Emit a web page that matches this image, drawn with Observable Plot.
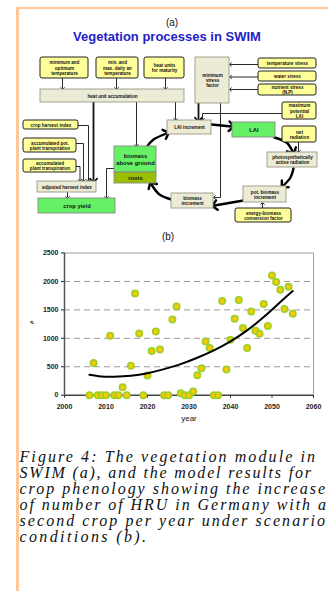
<!DOCTYPE html>
<html><head><meta charset="utf-8">
<script src="https://cdn.jsdelivr.net/npm/d3@7"></script>
<script src="https://cdn.jsdelivr.net/npm/@observablehq/plot@0.6"></script>
<style>
html,body{margin:0;padding:0;background:#fff;}
#page{position:relative;width:328px;height:591px;overflow:hidden;background:#fff;font-family:Arial,"Liberation Sans",sans-serif;}
.abs{position:absolute;}
#borderL{left:16px;top:7px;width:3px;height:584px;background:#fdc99b;}
#borderT{left:16px;top:7px;width:312px;height:2px;background:#fdc99b;}
#labA{left:122px;width:100px;top:16.5px;text-align:center;font-size:10px;line-height:12px;color:#111;}
#title{left:17px;width:300px;top:28.5px;text-align:center;font-size:13px;line-height:15px;font-weight:bold;color:#1e22c8;}
#labB{left:118px;width:100px;top:231px;text-align:center;font-size:10px;line-height:12px;color:#111;}
#diagram{left:0;top:0;}
#chart{left:0;top:240px;}
#caption{left:0;top:440px;}
</style>
</head><body>
<div id="page">
  <div id="borderL" class="abs"></div>
  <div id="borderT" class="abs"></div>
  <div id="diagram" class="abs"></div>
  <div id="labA" class="abs">(a)</div>
  <div id="title" class="abs">Vegetation processes in SWIM</div>
  <div id="labB" class="abs">(b)</div>
  <div id="chart" class="abs"></div>
  <svg id="caption" class="abs" width="328" height="130"></svg>
</div>
<script>
// ---------- (b) data ----------
const years = [2006,2007,2008,2009,2010,2011,2012,2013,2014,2015,2016,2017,2018,2019,2020,2021,2022,2023,2024,2025,2026,2027,2028,2029,2030,2031,2032,2033,2034,2035,2036,2037,2038,2039,2040,2041,2042,2043,2044,2045,2046,2047,2048,2049,2050,2051,2052,2053,2054,2055];
const hruCounts = [0,564,0,0,0,1045,0,0,141,0,517,1790,1086,0,347,775,1121,804,0,0,1332,1561,35,0,0,65,350,475,945,828,0,0,1655,452,975,1343,1675,1180,828,1473,1135,1080,1605,1218,2105,1990,1855,1515,1905,1432];
const trendYears = [2006,2008.8,2012,2016,2020,2024,2028,2032,2036,2040,2044,2048,2052,2055];
const trendValues = [359,329,324,341,387,458,546,658,787,945,1139,1373,1637,1830];
const xTicks = [2000,2010,2020,2030,2040,2050,2060];
const yTicks = [0,500,1000,1500,2000,2500];
const gridValues = [500,1000,1500,2000];
const xLabel = "year";
const yLabel = "#";

// ---------- (a) diagram content ----------
const nodeLabels = [
  "minimum and\noptimum\ntemperature","min. and\nmax. daily air\ntemperature","heat units\nfor maturity",
  "temperature stress","water stress","nutrient stress\n(N,P)","maximum\npotential\nLAI",
  "crop harvest index","accumulated pot.\nplant transpiration","accumulated\nplant transpiration",
  "net\nradiation","energy-biomass\nconversion factor",
  "minimum\nstress\nfactor","heat unit accumulation","adjusted harvest index","LAI increment",
  "photosynthetically\nactive radiation","pot. biomass\nincrement","biomass\nincrement",
  "crop yield","biomass\nabove ground","LAI","roots"
];
const nodeKinds = ["input","input","input","input","input","input","input","input","input","input","input","input",
  "process","process","process","process","process","process","process","state","state","state","root"];
// diagram layout (diagram units)
const nodeBoxes = [
  [40,57,88,78],[96,57,138,78],[144,57,184,78],
  [258,58,316,68],[258,71,316,81],[258,84,316,95],[282,102,316,119],
  [23,120,78,129],[23,138,76,152],[23,159,76,172],
  [282,126,316,142],[235,208,291,222],
  [195,57,229,103],[40,89,184,102],[37,181,96,192],[167,120,211,134],
  [267,152,317,167],[243,186,286,202],[171,193,213,208],
  [38,198,115,213],[114,146,156,172],[232,122,275,137],[114,172,156,183]
];
const thinLinks = [
  [[62,78],[62,88]],[[116,78],[116,88]],[[165,78],[165,88]],
  [[136,102],[136,145]],[[175,102],[175,119]],
  [[220,103],[220,197],[214,197]],[[282,113],[202,113],[202,119]],
  [[258,64],[230,64]],[[258,76.5],[230,76.5]],[[258,89],[230,89]],
  [[78,125],[88,125],[88,180]],[[76,143],[83,143],[83,180]],[[76,166],[79.5,166],[79.5,180]],
  [[67,192],[67,197]],[[114,168],[106,168],[106,197]],
  [[298,142],[298,151]],[[262,208],[262,203]]
];
const mediumLinks = [ [[93,102],[93,180]], [[198,103],[198,119]] ];
const cycleLinks = [
  [[146,147],[153,139],[166,133]],[[211,124],[231,126]],
  [[274,137],[286,142],[292,151]],[[293,168],[290,177],[283,185]],
  [[243,200],[214,205]],[[171,199],[159,194],[151,184]]
];

const kindFill = {input:"#ffff99", process:"#ebebd6", state:"#66f066", root:"#99c000"};
const kindStroke = {input:"#222", process:"#999988", state:"#888", root:"#888"};

const nodes = nodeLabels.map((label,i)=>({label, kind:nodeKinds[i], x1:nodeBoxes[i][0], y1:nodeBoxes[i][1], x2:nodeBoxes[i][2], y2:nodeBoxes[i][3]}));
const toSeg = (arr)=>arr.flatMap((pts,id)=>pts.map(([x,y])=>({id,x,y})));
const big = new Set(["biomass\nabove ground","crop yield","LAI","roots"]);

const diagram = Plot.plot({
  width:328, height:230, margin:0,
  x:{domain:[0,328], range:[0,328], axis:null},
  y:{domain:[0,230], range:[0,230], axis:null},
  style:{background:"transparent", fontFamily:"Arial, 'Liberation Sans', sans-serif", fontWeight:"bold", overflow:"visible"},
  marks:[
    Plot.line(toSeg(thinLinks), {x:"x", y:"y", z:"id", stroke:"#111", strokeWidth:0.9, markerEnd:"arrow"}),
    Plot.line(toSeg(mediumLinks), {x:"x", y:"y", z:"id", stroke:"#111", strokeWidth:1.8, markerEnd:"arrow"}),
    Plot.line(toSeg(cycleLinks), {x:"x", y:"y", z:"id", stroke:"#000", strokeWidth:2.4, curve:"natural", markerEnd:"arrow"}),
    ...Object.keys(kindFill).map(k=>Plot.rect(nodes.filter(d=>d.kind===k), {x1:"x1", x2:"x2", y1:"y1", y2:"y2", fill:kindFill[k], stroke:kindStroke[k], strokeWidth: k==="input"?1:0.9, rx: k==="input"?2:0})),
    Plot.text(nodes.filter(d=>!big.has(d.label)), {x:d=>(d.x1+d.x2)/2, y:d=>(d.y1+d.y2)/2, text:"label", fontSize:4.6, lineHeight:1.15, fill:"#111"}),
    Plot.text(nodes.filter(d=>big.has(d.label)), {x:d=>(d.x1+d.x2)/2, y:d=>(d.y1+d.y2)/2, text:"label", fontSize:5.8, lineHeight:1.2, fill:"#111"})
  ]
});
document.getElementById("diagram").appendChild(diagram);

// ---------- (b) chart ----------
const pts = years.map((y,i)=>({year:y, n:hruCounts[i]}));
const trend = trendYears.map((y,i)=>({year:y, n:trendValues[i]}));
const chart = Plot.plot({
  width:328, height:190,
  marginLeft:64, marginRight:15, marginTop:12.5, marginBottom:35.3,
  style:{background:"transparent", fontFamily:"Arial, 'Liberation Sans', sans-serif", fontSize:"7px", fontWeight:"bold", color:"#222", overflow:"visible"},
  x:{domain:[2000,2060], ticks:xTicks, tickFormat:d=>String(d), tickSize:3, tickPadding:6, label:null},
  y:{domain:[0,2500], ticks:yTicks, tickFormat:d=>String(d), tickSize:3, tickPadding:3, label:null},
  marks:[
    Plot.ruleY(gridValues, {stroke:"#9a9a9a", strokeWidth:1, strokeDasharray:"6,4"}),
    Plot.ruleY([2500], {stroke:"#a0a0a0", strokeWidth:1}),
    Plot.ruleX([2060], {stroke:"#a0a0a0", strokeWidth:1}),
    Plot.ruleX([2000], {stroke:"#555", strokeWidth:1.5}),
    Plot.ruleY([0], {stroke:"#444", strokeWidth:1.5}),
    Plot.dot(pts, {x:"year", y:"n", r:3.1, fill:"#ffc800", stroke:"#9fd028", strokeWidth:1.8}),
    Plot.line(trend, {x:"year", y:"n", curve:"natural", stroke:"#000", strokeWidth:2}),
    Plot.text([xLabel], {frameAnchor:"bottom", dy:25.5, fontSize:8, fontWeight:"normal", fill:"#222"}),
    Plot.text([yLabel], {frameAnchor:"left", dx:-32, rotate:-90, fontSize:6, fill:"#222"})
  ]
});
document.getElementById("chart").appendChild(chart);

// ---------- caption ----------
const captionLines = [
  "Figure 4: The vegetation module in",
  "SWIM (a), and the model results for",
  "crop phenology showing the increase",
  "of number of HRU in Germany with a",
  "second crop per year under scenario",
  "conditions (b)."
];
const captionRight = [315, 311, 325, 326, 325, 146];
const svg = d3.select("#caption");
captionLines.forEach((t,i)=>{
  svg.append("text")
    .attr("x",19.5).attr("y",21.5+16.1*i)
    .attr("textLength", captionRight[i]-19.5)
    .attr("lengthAdjust","spacing")
    .style("font-family","'Liberation Serif','Times New Roman',serif")
    .style("font-style","italic")
    .style("font-size","16px")
    .style("fill","#111")
    .text(t);
});
</script>
</body></html>
